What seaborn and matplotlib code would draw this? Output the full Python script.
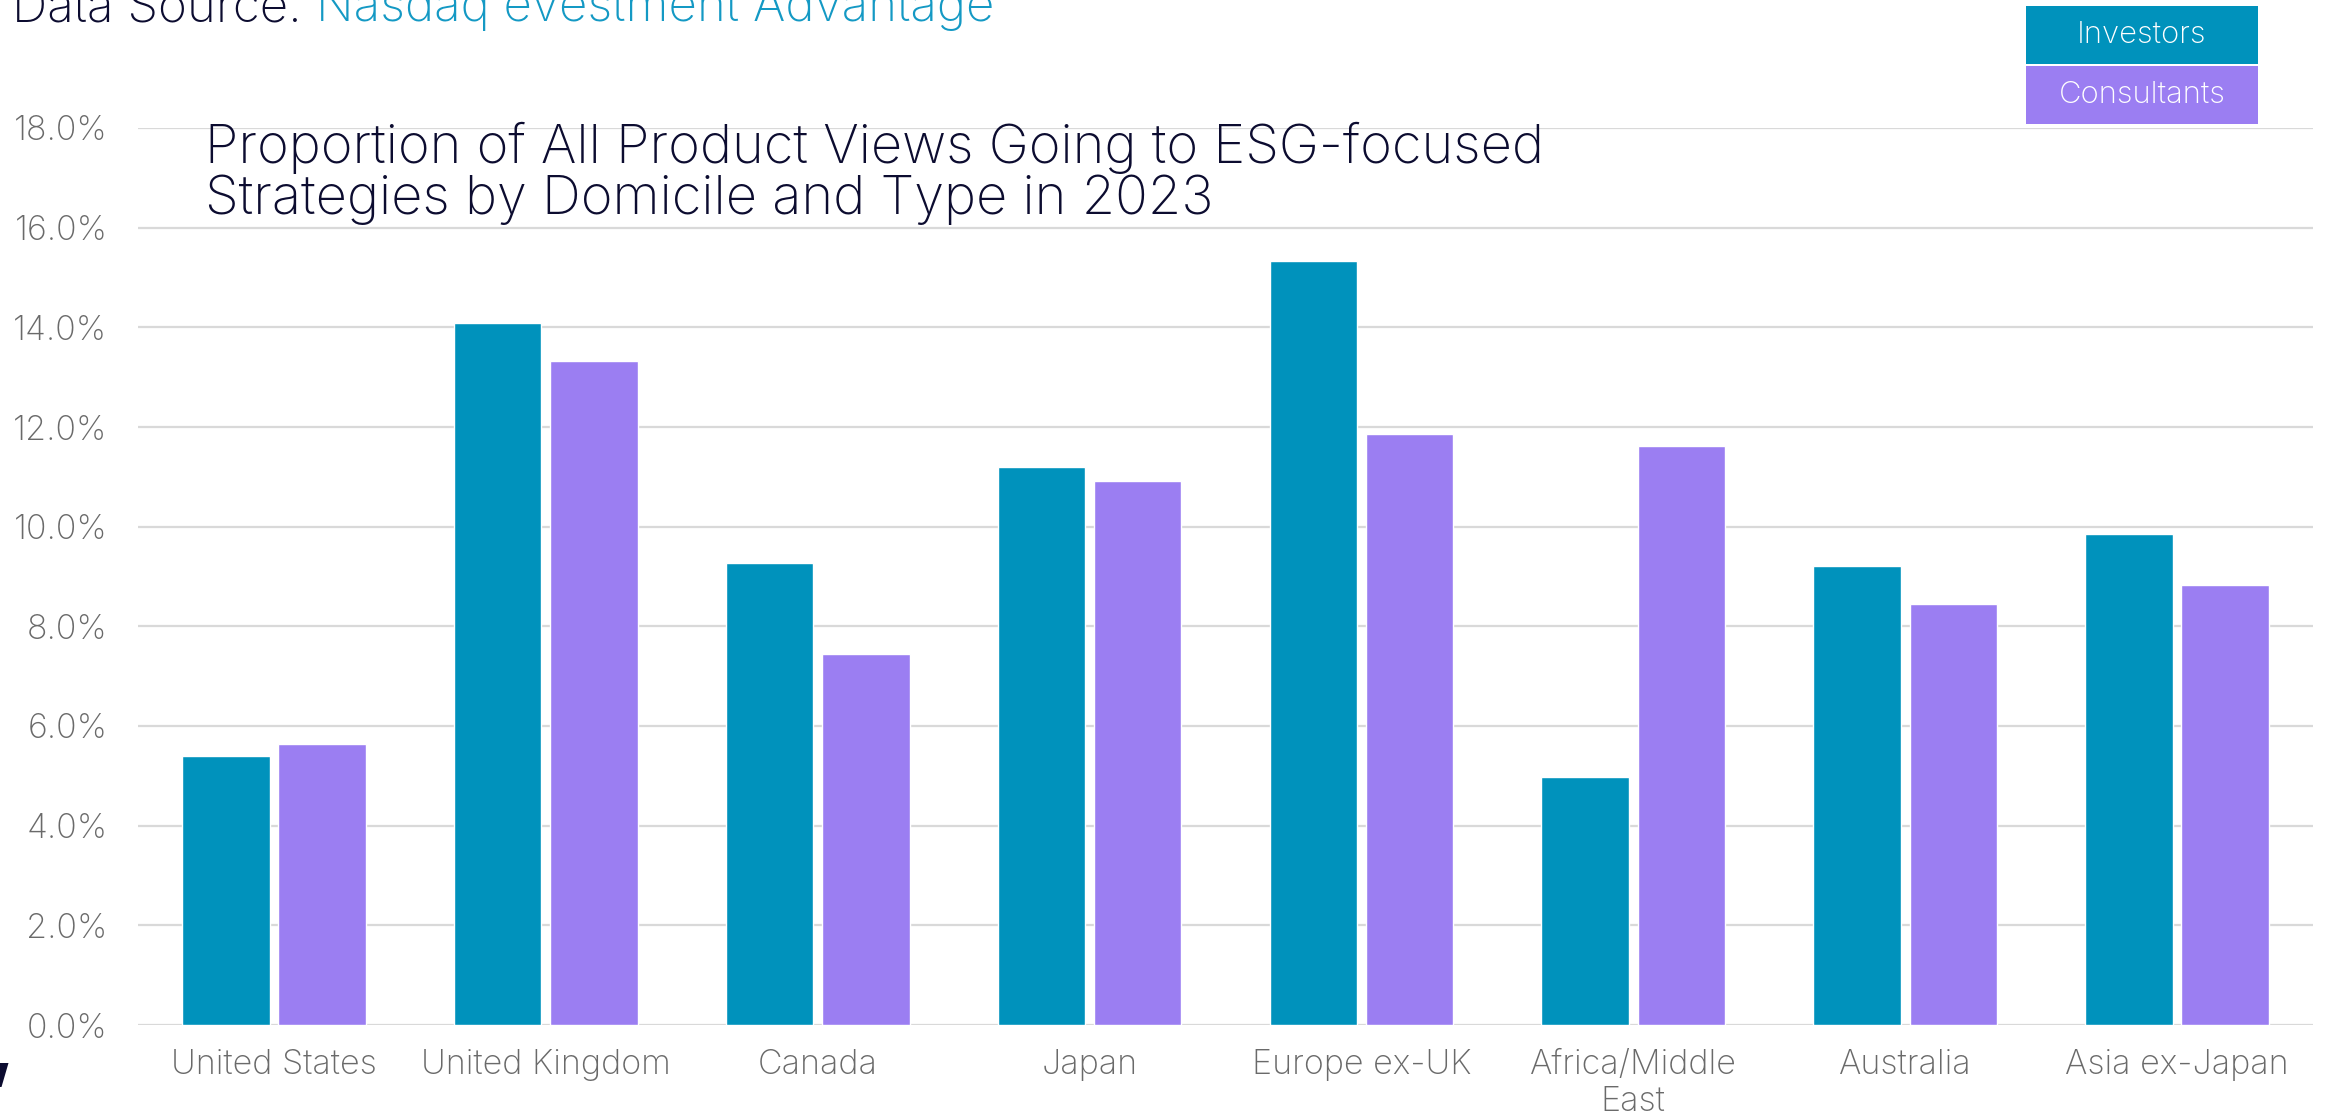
import matplotlib
matplotlib.use("Agg")
import matplotlib.pyplot as plt
from matplotlib.patches import Rectangle, Polygon
from matplotlib.ticker import PercentFormatter, MultipleLocator
import numpy as np
import pandas as pd
import seaborn as sns

# ---- data -------------------------------------------------------------
domiciles = ["United States", "United Kingdom", "Canada", "Japan",
             "Europe ex-UK", "Africa/Middle\nEast", "Australia", "Asia ex-Japan"]
investors = [5.39, 14.08, 9.28, 11.20, 15.33, 4.98, 9.22, 9.86]
consultants = [5.63, 13.33, 7.44, 10.92, 11.85, 11.61, 8.45, 8.83]
series_names = ["Investors", "Consultants"]

title_text = ("Proportion of All Product Views Going to ESG-focused\n"
              "Strategies by Domicile and Type in 2023")
source_label = "Data Source: "
source_name = "Nasdaq evestment Advantage"

# ---- styling ----------------------------------------------------------
TEAL = "#0092BC"
PURPLE = "#9B7EF2"
NAVY = "#0C0C30"
SOURCE_BLUE = "#1499C4"
GRID = "#D9D9D9"
TICK = "#6A6A6A"

sns.set_theme(style="white")
plt.rcParams["font.family"] = ["Inter", "DejaVu Sans"]

df = pd.DataFrame({
    "Domicile": domiciles * 2,
    "Share": investors + consultants,
    "Type": [series_names[0]] * len(domiciles) + [series_names[1]] * len(domiciles),
})

W, H = 2325, 1120
fig = plt.figure(figsize=(W / 100, H / 100), dpi=100)
ax = fig.add_axes([138 / W, 1 - 1025 / H, (2313 - 138) / W, (1025 - 128) / H])

sns.barplot(data=df, x="Domicile", y="Share", hue="Type",
            order=domiciles, hue_order=series_names,
            palette=[TEAL, PURPLE], width=0.708, gap=0.09,
            saturation=1, legend=False, errorbar=None, ax=ax, zorder=3)

ax.set_ylim(0, 18)
ax.set_xlim(-0.5, len(domiciles) - 0.5)
ax.yaxis.set_major_locator(MultipleLocator(2))
ax.yaxis.set_major_formatter(PercentFormatter(decimals=1))
ax.grid(axis="y", color=GRID, linewidth=1.6, zorder=0)
ax.grid(axis="x", visible=False)
for s in ax.spines.values():
    s.set_visible(False)
ax.set_xlabel("")
ax.set_ylabel("")
ax.tick_params(axis="y", length=0, pad=22, labelsize=24.5, labelcolor=TICK)
ax.tick_params(axis="x", length=0, pad=17, labelsize=24.5, labelcolor=TICK)
for lbl in ax.get_xticklabels() + ax.get_yticklabels():
    lbl.set_fontweight("light")
for lbl in ax.get_xticklabels():
    lbl.set_linespacing(1.2)

# title over the plot area (baseline given for its last line)
fig.text(205 / W, 1 - 214 / H, title_text, fontsize=39, color=NAVY,
         fontweight="light", ha="left", va="baseline", linespacing=1.0)

# source line, partly running off the top edge
t1 = fig.text(12 / W, 1 - 21 / H, source_label, fontsize=35.5, color=NAVY,
              fontweight="light", ha="left", va="baseline")
fig.canvas.draw()
bb = t1.get_window_extent()
fig.text(bb.x1 / W, 1 - 21 / H, source_name, fontsize=35.5, color=SOURCE_BLUE,
         fontweight="light", ha="left", va="baseline")

# legend drawn as stacked colour boxes with white labels
box_x0, box_x1 = 2026, 2258
for (y0, y1), name, col in [((6, 64), series_names[0], TEAL),
                            ((66, 124), series_names[1], PURPLE)]:
    fig.patches.append(Rectangle((box_x0 / W, 1 - y1 / H), (box_x1 - box_x0) / W,
                                 (y1 - y0) / H, transform=fig.transFigure,
                                 facecolor=col, edgecolor="none"))
    fig.text((box_x0 + box_x1) / 2 / W, 1 - (y0 + y1) / 2 / H, name,
             color="white", fontsize=22.4, fontweight="light",
             ha="center", va="center")

# corner mark of the logo
fig.patches.append(Polygon([(0, 1 - 1063 / H), (8.5 / W, 1 - 1063 / H),
                            (1.5 / W, 1 - 1087 / H), (0, 1 - 1087 / H)],
                           closed=True, transform=fig.transFigure,
                           facecolor=NAVY, edgecolor="none"))

fig.savefig("out.png", dpi=100, facecolor="white")
